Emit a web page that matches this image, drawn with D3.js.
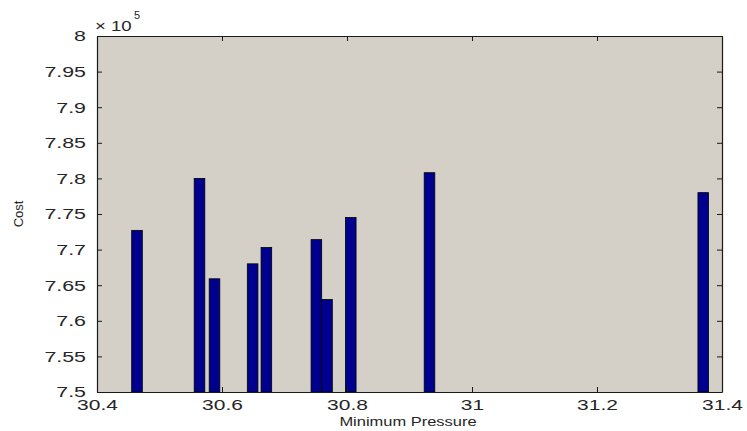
<!DOCTYPE html>
<html>
<head>
<meta charset="utf-8">
<script src="https://cdn.jsdelivr.net/npm/d3@7"></script>
<style>
  html, body { margin: 0; padding: 0; background: #ffffff; }
  svg { display: block; }
  text { font-family: "Liberation Sans", Arial, sans-serif; fill: #262626; }
</style>
</head>
<body>
<svg id="chart" width="747" height="431"></svg>
<script>
// Data (cost values in units of 1e5)
const pressures = [30.464, 30.564, 30.588, 30.649, 30.671, 30.751, 30.768, 30.806, 30.932, 31.370];
const costs     = [7.727, 7.800, 7.659, 7.680, 7.703, 7.714, 7.630, 7.745, 7.808, 7.780];
const xTicks = [30.4, 30.6, 30.8, 31, 31.2, 31.4];
const yTicks = [7.5, 7.55, 7.6, 7.65, 7.7, 7.75, 7.8, 7.85, 7.9, 7.95, 8];
const xDomain = [30.4, 31.4];
const yDomain = [7.5, 8];
const barWidthUnits = 0.017;

const svg = d3.select("#chart");
const m = { left: 97, top: 36, right: 25, bottom: 39 };
const W = 747 - m.left - m.right;
const H = 431 - m.top - m.bottom;

const x = d3.scaleLinear().domain(xDomain).range([0, W]);
const y = d3.scaleLinear().domain(yDomain).range([H, 0]);

const g = svg.append("g").attr("transform", `translate(${m.left},${m.top})`);

g.append("rect").attr("x", 0).attr("y", 0).attr("width", W).attr("height", H)
  .attr("fill", "#d4d0c8");

const bw = x(xDomain[0] + barWidthUnits) - x(xDomain[0]);
g.selectAll("rect.bar").data(pressures.map((p, i) => ({ p, c: costs[i] })))
  .enter().append("rect").attr("class", "bar")
  .attr("x", d => x(d.p) - bw / 2)
  .attr("y", d => y(d.c))
  .attr("width", bw)
  .attr("height", d => y(yDomain[0]) - y(d.c))
  .attr("fill", "#00008f")
  .attr("stroke", "#000000")
  .attr("stroke-width", 0.8);

const fmt = d => String(+d.toFixed(2));

const axB = g.append("g").attr("transform", `translate(0,${H})`)
  .call(d3.axisBottom(x).tickValues(xTicks).tickFormat(fmt).tickSizeInner(-5).tickSizeOuter(0).tickPadding(7));
const axT = g.append("g")
  .call(d3.axisTop(x).tickValues(xTicks).tickFormat("").tickSizeInner(-5).tickSizeOuter(0));
const axL = g.append("g")
  .call(d3.axisLeft(y).tickValues(yTicks).tickFormat(fmt).tickSizeInner(-5).tickSizeOuter(0).tickPadding(11));
const axR = g.append("g").attr("transform", `translate(${W},0)`)
  .call(d3.axisRight(y).tickValues(yTicks).tickFormat("").tickSizeInner(-5).tickSizeOuter(0));

[axB, axT, axL, axR].forEach(a => {
  a.select(".domain").attr("stroke", "#1a1a1a").attr("stroke-width", 1.2);
  a.selectAll(".tick line").attr("stroke", "#1a1a1a");
});

axB.selectAll(".tick text").attr("font-size", 15).attr("fill", "#262626")
  .style("transform-box", "fill-box").style("transform-origin", "center")
  .style("transform", "scaleX(1.4)");
axL.selectAll(".tick text").attr("font-size", 15.5).attr("fill", "#262626")
  .style("transform-box", "fill-box").style("transform-origin", "right center")
  .style("transform", "scaleX(1.38)");

// x10^5 exponent label
const ex = svg.append("text").attr("x", 95).attr("y", 31).attr("font-size", 15.5)
  .style("transform-box", "fill-box").style("transform-origin", "left center")
  .style("transform", "scaleX(1.2)");
ex.append("tspan").text("\u00d7 10");
svg.append("text").attr("x", 134).attr("y", 19).attr("font-size", 11).text("5");

// Axis labels
svg.append("text").attr("x", 408).attr("y", 426).attr("text-anchor", "middle")
  .attr("font-size", 13.5)
  .style("transform-box", "fill-box").style("transform-origin", "center")
  .style("transform", "scaleX(1.22)")
  .text("Minimum Pressure");
svg.append("text").attr("transform", "translate(23,214) rotate(-90)")
  .attr("text-anchor", "middle").attr("font-size", 13)
  .text("Cost");
</script>
</body>
</html>
